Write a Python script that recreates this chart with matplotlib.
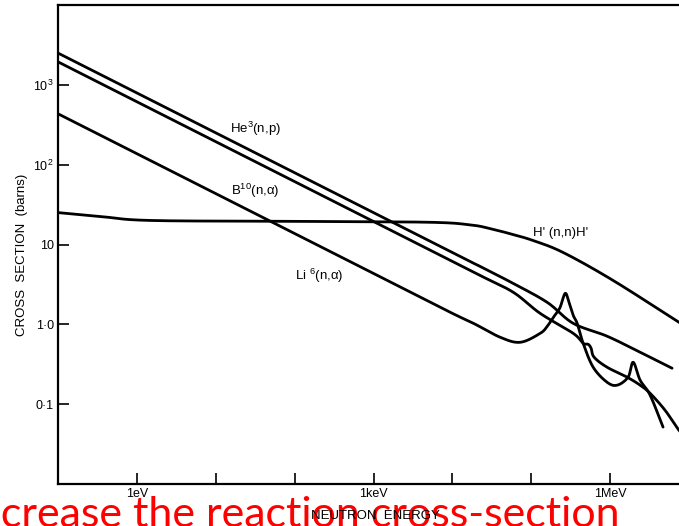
import numpy as np
import matplotlib
matplotlib.use("Agg")
import matplotlib.pyplot as plt

plt.rcParams['font.family'] = ['Liberation Sans', 'DejaVu Sans']
plt.rcParams['mathtext.fontset'] = 'custom'
plt.rcParams['mathtext.rm'] = 'Liberation Sans'

# neutron energy in eV, cross section in barns
he3_E = [0.1, 1e2, 1e4, 2.26e4, 5.92e4, 1.6e5, 3.4e5, 9.16e5, 2.4e6, 6.1e6]
he3_sig = [2500, 79.1, 7.9, 5.3, 3.25, 1.88, 1.03, 0.71, 0.447, 0.282]

b10_E = [0.1, 1e2, 1e4, 2.26e4, 5.92e4, 1.3e5, 3.4e5, 4.55e5, 5.27e5, 5.74e5,
         6.27e5, 9.16e5, 1.64e6, 2.4e6, 3.21e6, 4.97e6, 7.47e6, 1e7]
b10_sig = [1940, 61.3, 6.13, 4.08, 2.52, 1.37, 0.772, 0.579, 0.562, 0.501,
           0.387, 0.290, 0.218, 0.173, 0.137, 0.084, 0.047, 0.0355]

li6_E = [0.1, 1e2, 7.05e3, 1.85e4, 4.05e4, 7.26e4, 1.3e5, 1.6e5, 1.9e5, 2.3e5,
         2.69e5, 3.0e5, 3.4e5, 3.82e5, 4.55e5, 6.1e5, 9.16e5, 1.23e6, 1.69e6,
         1.96e6, 2.4e6, 3.21e6, 4.69e6]
li6_sig = [434, 13.7, 1.63, 1.03, 0.688, 0.596, 0.772, 0.95, 1.22, 1.6,
           2.44, 1.9, 1.3, 1.03, 0.579, 0.290, 0.188, 0.173, 0.218,
           0.335, 0.2, 0.130, 0.0516]

h1_E = [0.1, 0.35, 1.5, 1e2, 5e3, 1.69e4, 3.03e4, 5.92e4, 1.06e5, 2.54e5,
        1.09e6, 7.47e6, 1e7]
h1_sig = [25.1, 22.4, 20.0, 19.5, 19.0, 17.6, 15.8, 13.3, 11.2, 7.94,
          3.55, 1.06, 0.89]


def smooth(E, s, n=30):
    # Catmull-Rom through the points, done in log-log space
    p = np.column_stack([np.log10(E), np.log10(s)])
    p = np.vstack([2 * p[0] - p[1], p, 2 * p[-1] - p[-2]])
    out = []
    t = np.linspace(0, 1, n, endpoint=False)[:, None]
    for i in range(1, len(p) - 2):
        p0, p1, p2, p3 = p[i - 1], p[i], p[i + 1], p[i + 2]
        out.append(0.5 * (2 * p1 + (p2 - p0) * t
                          + (2 * p0 - 5 * p1 + 4 * p2 - p3) * t ** 2
                          + (3 * p1 - p0 - 3 * p2 + p3) * t ** 3))
    out.append(p[-2][None, :])
    out = np.vstack(out)
    return 10 ** out[:, 0], 10 ** out[:, 1]


fig = plt.figure(figsize=(6.79, 5.26), dpi=100)
W, H = 679, 526
ax = fig.add_axes([58 / W, (H - 484) / H, (689 - 58) / W, (484 - 5) / H])
ax.set_xscale('log')
ax.set_yscale('log')
ax.set_xlim(0.1, 1e7)
ax.set_ylim(0.01, 1e4)

for E, s in [(he3_E, he3_sig), (b10_E, b10_sig), (li6_E, li6_sig), (h1_E, h1_sig)]:
    x, y = smooth(E, s)
    ax.plot(x, y, color='black', lw=2.0, solid_joinstyle='round',
            solid_capstyle='round')

ax.text(15, 280, r'He$^{3}$(n,p)', fontsize=9.5, va='center')
ax.text(15.5, 47, r'B$^{10}$(n,α)', fontsize=9.5, va='center')
ax.text(100, 4.1, r'Li $^{6}$(n,α)', fontsize=9.5, va='center')
ax.text(1.05e5, 14, "H' (n,n)H'", fontsize=9.5, va='center')

for side in ['left', 'bottom', 'top']:
    ax.spines[side].set_linewidth(1.6)
ax.spines['right'].set_visible(False)

ax.set_yticks([0.1, 1, 10, 100, 1000])
ax.set_yticklabels(['0·1', '1·0', '10', r'10$^2$', r'10$^3$'])
ax.set_xticks([1, 10, 100, 1e3, 1e4, 1e5, 1e6])
ax.set_xticklabels(['1eV', '', '', '1keV', '', '', '1MeV'])
ax.minorticks_off()
ax.tick_params(axis='both', direction='in', length=8, width=1.2,
               labelsize=9, pad=3)

fig.text(22 / W, 1 - 255 / H, 'CROSS  SECTION  (barns)', rotation=90,
         ha='center', va='center', fontsize=9.5)
fig.text(375 / W, 1 - 516 / H, 'NEUTRON  ENERGY', ha='center', va='center',
         fontsize=9.5, zorder=5)
fig.text(620 / W, 1 - 527 / H, 'Increase the reaction cross-section',
         ha='right', va='baseline', color='red', fontsize=31,
         family=['Lato', 'DejaVu Sans'], zorder=4)

fig.savefig('out.png', dpi=100)
